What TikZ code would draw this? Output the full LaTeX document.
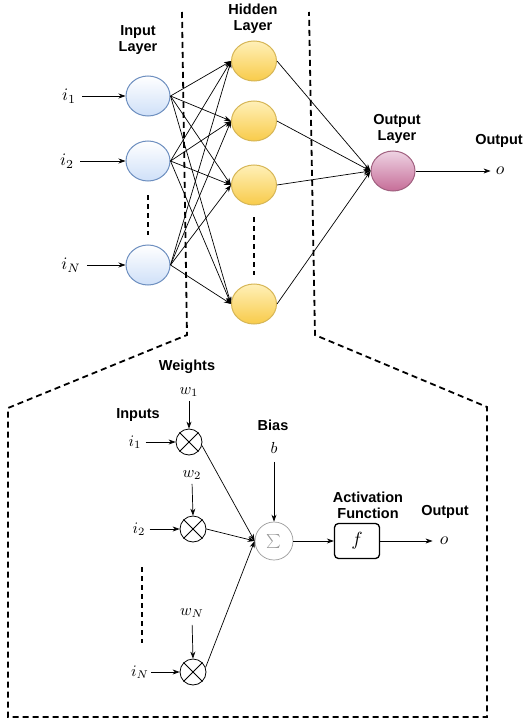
\documentclass[tikz,border=0pt]{standalone}
\usepackage{graphicx}
\usepackage{fontspec}
\setsansfont{Liberation Sans}
\usetikzlibrary{arrows.meta,shapes.geometric}
\definecolor{inedge}{HTML}{6C8EBF}
\definecolor{infill}{HTML}{CFE0F8}
\definecolor{hidedge}{HTML}{D6B656}
\definecolor{hidtop}{HTML}{FFF0B8}
\definecolor{hidbot}{HTML}{F8CB4A}
\definecolor{outedge}{HTML}{A0607F}
\definecolor{outtop}{HTML}{EED3E3}
\definecolor{outbot}{HTML}{C66D98}
\definecolor{sumgray}{HTML}{999999}
\newcommand{\mlbl}[1]{\scalebox{1.6}{$#1$}}
\newcommand{\mlblbig}[1]{\scalebox{1.75}{$#1$}}
\tikzset{
  lbl/.style={font=\sffamily\bfseries\fontsize{14.5}{16}\selectfont, align=center, inner sep=0pt},
  mth/.style={inner sep=2pt},
  arr/.style={-{Stealth[length=7pt,width=5pt]}, line width=0.7pt},
  bigdash/.style={line width=1.8pt, dash pattern=on 6pt off 4pt},
  smalldash/.style={line width=1.2pt, dash pattern=on 5pt off 4pt},
  inode/.style={ellipse, draw=inedge, line width=1pt, top color=white, bottom color=infill, minimum width=44pt, minimum height=40pt, inner sep=0pt},
  hnode/.style={ellipse, draw=hidedge, line width=1pt, top color=hidtop, bottom color=hidbot, minimum width=45pt, minimum height=40pt, inner sep=0pt},
  onode/.style={ellipse, draw=outedge, line width=1pt, top color=outtop, bottom color=outbot, minimum width=44pt, minimum height=40pt, inner sep=0pt},
  mult/.style={circle, draw, line width=0.8pt, minimum size=26pt, inner sep=0pt},
  sumnode/.style={circle, draw=sumgray, line width=0.7pt, minimum size=38pt, inner sep=0pt, text=sumgray},
  fbox/.style={rectangle, rounded corners=4pt, draw, line width=1.3pt, minimum width=45pt, minimum height=35pt, inner sep=0pt}
}
\begin{document}
\begin{tikzpicture}[x=1pt,y=-1pt]
\useasboundingbox (0,0) rectangle (526,722);
% ---------- top network ----------
\node[inode] (in1) at (148,96) {};
\node[inode] (in2) at (148,161) {};
\node[inode] (inN) at (148,265) {};
\node[mth] (l1) at (69,96) {\mlblbig{i_1}};
\node[mth] (l2) at (67,161) {\mlblbig{i_2}};
\node[mth] (lN) at (71,265) {\mlblbig{i_N}};
\draw[arr, shorten <=4pt] (l1.east) -- (in1.west);
\draw[arr, shorten <=4pt] (l2.east) -- (in2.west);
\draw[arr, shorten <=4pt] (lN.east) -- (inN.west);
\coordinate (ind1) at (148,195);
\coordinate (ind2) at (148,235);
\draw[smalldash] (ind1) -- (ind2);
\node[lbl] at (138,40) {Input\\Layer};

\node[hnode] (h1) at (254,61) {};
\node[hnode] (h2) at (254,121) {};
\node[hnode] (h3) at (254,185) {};
\node[hnode] (hN) at (254,304) {};
\node[lbl] at (253,19) {Hidden\\Layer};
\coordinate (hd1) at (254,217);
\coordinate (hd2) at (254,275);
\draw[smalldash] (hd1) -- (hd2);

\foreach \a in {in1,in2,inN}{
  \foreach \b in {h1,h2,h3,hN}{
    \draw[arr] (\a.east) -- (\b.west);
  }
}

\node[onode] (out) at (393,171) {};
\node[lbl] at (397,129) {Output\\Layer};
\foreach \b in {h1,h2,h3,hN}{
  \draw[arr] (\b.east) -- (out.west);
}
\node[mth] (o1) at (500,171) {\mlblbig{o}};
\node[lbl] at (499,141) {Output};
\draw[arr, shorten >=3pt] (out.east) -- (o1.west);

% ---------- dashed zoom outline ----------
\coordinate (dA) at (182,12);
\coordinate (dB) at (187,335);
\coordinate (dC) at (8,408);
\coordinate (dD) at (8,717);
\coordinate (dE) at (487,717);
\coordinate (dF) at (487,407);
\coordinate (dG) at (315,335);
\coordinate (dH) at (309,12);
\draw[bigdash] (dA) -- (dB) -- (dC) -- (dD) -- (dE) -- (dF) -- (dG) -- (dH);

% ---------- perceptron ----------
\node[lbl] at (187,367) {Weights};
\node[lbl] at (138,415) {Inputs};
\node[mult] (m1) at (189,442) {};
\node[mult] (m2) at (193,529) {};
\node[mult] (mN) at (193,672) {};
\foreach \m in {m1,m2,mN}{
  \draw[line width=0.8pt] (\m.45) -- (\m.225);
  \draw[line width=0.8pt] (\m.135) -- (\m.315);
}
\node[mth] (w1) at (189,392) {\mlbl{w_1}};
\node[mth] (w2) at (192,475) {\mlbl{w_2}};
\node[mth] (wN) at (192,613) {\mlbl{w_N}};
\draw[arr, shorten <=2pt] (w1.south) -- (m1.north);
\draw[arr, shorten <=2pt] (w2.south) -- (m2.north);
\draw[arr, shorten <=5pt] (wN.south) -- (mN.north);
\node[mth] (j1) at (135,442) {\mlbl{i_1}};
\node[mth] (j2) at (139,529) {\mlbl{i_2}};
\node[mth] (jN) at (140,672) {\mlbl{i_N}};
\draw[arr, shorten <=2pt] (j1.east) -- (m1.west);
\draw[arr, shorten <=2pt] (j2.east) -- (m2.west);
\draw[arr] (jN.east) -- (mN.west);
\coordinate (bd1) at (142,567);
\coordinate (bd2) at (142,643);
\draw[smalldash] (bd1) -- (bd2);

\node[sumnode] (sum) at (274,541) {\scalebox{1.4}{$\textstyle\sum$}};
\node[lbl] at (273,425) {Bias};
\node[mth] (b) at (274,448) {\mlbl{b}};
\draw[arr, shorten <=6pt] (b.south) -- (sum.north);
\draw[arr] (m1.-15) -- (sum.west);
\draw[arr] (m2.east) -- (sum.west);
\draw[arr] (mN.20) -- (sum.west);

\node[fbox] (f) at (357,541) {\scalebox{1.9}{$f$}};
\node[lbl] at (368,505) {Activation\\Function};
\draw[arr] (sum.east) -- (f.west);
\node[mth] (o2) at (444,541) {\mlblbig{o}};
\node[lbl] at (445,512) {Output};
\draw[arr, shorten >=5pt] (f.east) -- (o2.west);
\end{tikzpicture}
\end{document}
